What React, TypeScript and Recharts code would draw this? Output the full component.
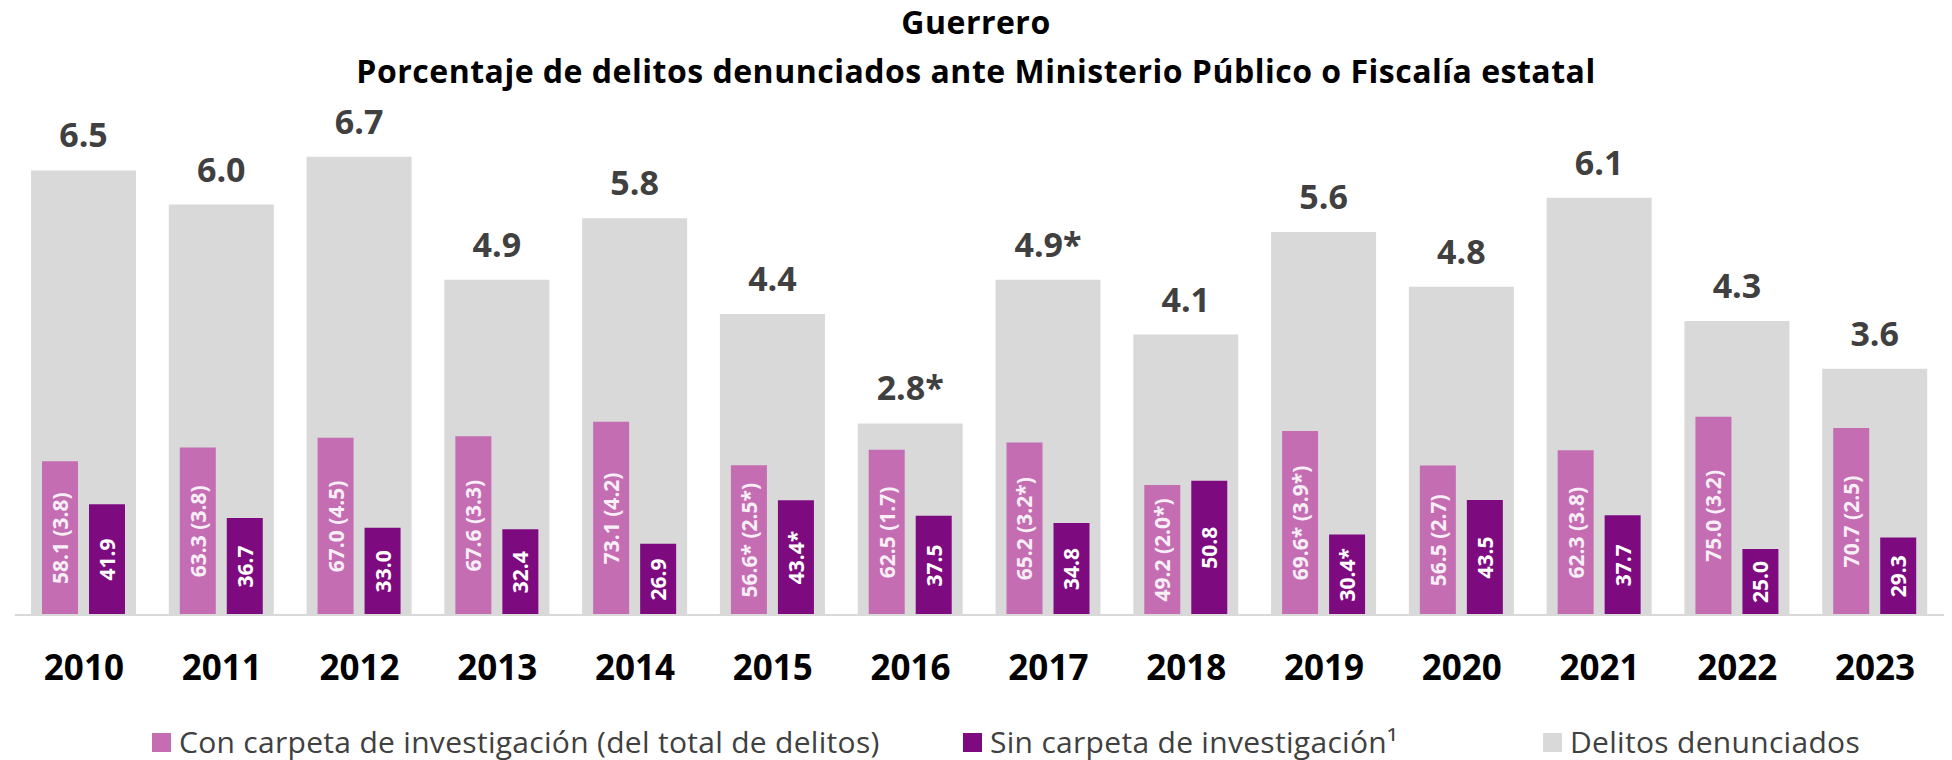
import { BarChart, Bar, XAxis, YAxis, LabelList, Legend } from 'recharts';

// Guerrero - porcentaje de delitos denunciados
const years = ['2010', '2011', '2012', '2013', '2014', '2015', '2016', '2017', '2018', '2019', '2020', '2021', '2022', '2023'];

const denunciados = [6.5, 6.0, 6.7, 4.9, 5.8, 4.4, 2.8, 4.9, 4.1, 5.6, 4.8, 6.1, 4.3, 3.6];
const denunciadosLabels = ['6.5', '6.0', '6.7', '4.9', '5.8', '4.4', '2.8*', '4.9*', '4.1', '5.6', '4.8', '6.1', '4.3', '3.6'];

const conCarpeta = [58.1, 63.3, 67.0, 67.6, 73.1, 56.6, 62.5, 65.2, 49.2, 69.6, 56.5, 62.3, 75.0, 70.7];
const conCarpetaLabels = [
  '58.1 (3.8)', '63.3 (3.8)', '67.0 (4.5)', '67.6 (3.3)', '73.1 (4.2)', '56.6* (2.5*)', '62.5 (1.7)',
  '65.2 (3.2*)', '49.2 (2.0*)', '69.6* (3.9*)', '56.5 (2.7)', '62.3 (3.8)', '75.0 (3.2)', '70.7 (2.5)',
];

const sinCarpeta = [41.9, 36.7, 33.0, 32.4, 26.9, 43.4, 37.5, 34.8, 50.8, 30.4, 43.5, 37.7, 25.0, 29.3];
const sinCarpetaLabels = ['41.9', '36.7', '33.0', '32.4', '26.9', '43.4*', '37.5', '34.8', '50.8', '30.4*', '43.5', '37.7', '25.0', '29.3'];

const legendItems = [
  { name: 'Con carpeta de investigación (del total de delitos)', color: '#c46db3', left: 152 },
  { name: 'Sin carpeta de investigación¹', color: '#7e0a80', left: 963 },
  { name: 'Delitos denunciados', color: '#d9d9d9', left: 1543 },
];

const data = years.map((year, i) => ({
  year,
  denunciados: denunciados[i],
  denLabel: denunciadosLabels[i],
  con: conCarpeta[i],
  conLabel: conCarpetaLabels[i],
  sin: sinCarpeta[i],
  sinLabel: sinCarpetaLabels[i],
}));

const FONT = '"Open Sans", sans-serif';

const VerticalLabel = (color: string, weight: number) => (props: any) => {
  const x = Number(props.x);
  const y = Number(props.y);
  const w = Number(props.width);
  const h = Number(props.height);
  const cx = x + w / 2;
  const cy = y + h / 2;
  return (
    <text
      x={cx}
      y={cy}
      transform={`rotate(-90 ${cx} ${cy})`}
      textAnchor='middle'
      dominantBaseline='central'
      fill={color}
      fontSize={21}
      fontWeight={weight}
      fontFamily={FONT}
    >
      {props.value}
    </text>
  );
};

const LegendContent = () => (
  <div style={{ position: 'relative', width: 1952, height: 36, fontFamily: FONT }}>
    {legendItems.map((item) => (
      <div
        key={item.name}
        style={{ position: 'absolute', left: item.left, top: 0, height: 36, display: 'flex', alignItems: 'center' }}
      >
        <span style={{ display: 'inline-block', width: 19, height: 19, background: item.color, marginTop: 10 }} />
        <span
          style={{
            marginLeft: 8,
            fontSize: 30,
            letterSpacing: 0.3,
            color: '#404040',
            lineHeight: '36px',
            marginTop: 10,
            whiteSpace: 'nowrap',
          }}
        >
          {item.name}
        </span>
      </div>
    ))}
  </div>
);

export default function App() {
  return (
    <div style={{ position: 'absolute', left: 0, top: 0, width: 1952, height: 760, background: '#fff', fontFamily: FONT }}>
      <div
        style={{
          position: 'absolute',
          left: 0,
          top: -3,
          width: 1952,
          textAlign: 'center',
          fontSize: 32,
          letterSpacing: 0.5,
          fontWeight: 700,
          lineHeight: '49px',
          color: '#000',
        }}
      >
        <div>Guerrero</div>
        <div>Porcentaje de delitos denunciados ante Ministerio Público o Fiscalía estatal</div>
      </div>
      <BarChart
        width={1952}
        height={760}
        data={data}
        margin={{ top: 102, right: 8, left: 15, bottom: 5 }}
        barGap={11}
      >
        <XAxis xAxisId='bg' dataKey='year' hide height={0} />
        <XAxis
          xAxisId='main'
          dataKey='year'
          height={104}
          tickLine={false}
          tickMargin={34}
          axisLine={{ stroke: '#d9d9d9', strokeWidth: 2 }}
          tick={{ fill: '#000', fontSize: 35, fontWeight: 700, fontFamily: FONT }}
          interval={0}
        />
        <YAxis yAxisId='bg' domain={[0, 7.5]} hide />
        <YAxis yAxisId='main' domain={[0, 194]} hide />
        <Legend verticalAlign='bottom' content={<LegendContent />} wrapperStyle={{ left: 0, width: 1952, height: 36 }} />
        <Bar
          xAxisId='bg'
          yAxisId='bg'
          dataKey='denunciados'
          name='Delitos denunciados'
          fill='#d9d9d9'
          barSize={105}
          isAnimationActive={false}
        >
          <LabelList
            dataKey='denLabel'
            position='top'
            offset={23}
            fill='#404040'
            fontSize={34}
            fontWeight={700}
            fontFamily={FONT}
          />
        </Bar>
        <Bar
          xAxisId='main'
          yAxisId='main'
          dataKey='con'
          name='Con carpeta de investigación (del total de delitos)'
          fill='#c46db3'
          barSize={36}
          isAnimationActive={false}
        >
          <LabelList dataKey='conLabel' content={VerticalLabel('#f8eef6', 700)} />
        </Bar>
        <Bar
          xAxisId='main'
          yAxisId='main'
          dataKey='sin'
          name='Sin carpeta de investigación¹'
          fill='#7e0a80'
          barSize={36}
          isAnimationActive={false}
        >
          <LabelList dataKey='sinLabel' content={VerticalLabel('#ffffff', 700)} />
        </Bar>
      </BarChart>
    </div>
  );
}
